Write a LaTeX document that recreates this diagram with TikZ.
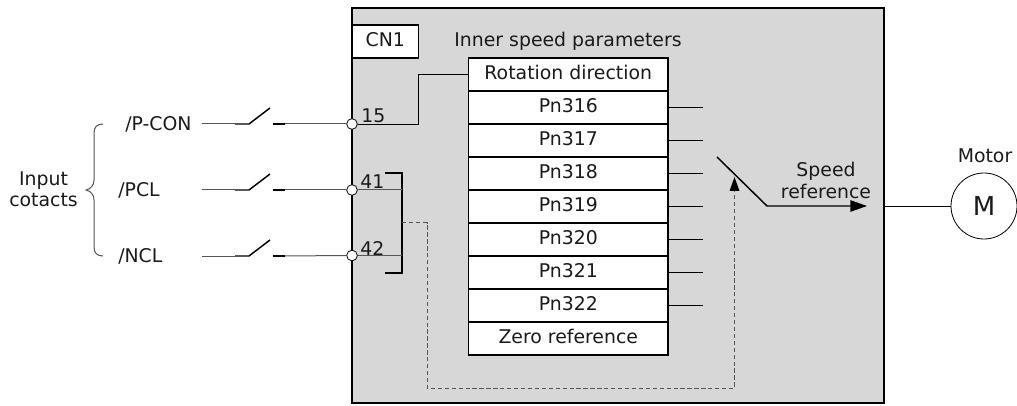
\documentclass[tikz,border=0pt]{standalone}
\usepackage{fontspec}
\setmainfont{DejaVu Sans}
\usetikzlibrary{arrows.meta}
\definecolor{panel}{HTML}{D7D7D7}
\definecolor{txt}{HTML}{1A1A1A}
\definecolor{wire}{HTML}{555555}
\tikzset{
  x=0.75pt,y=-0.75pt,
  lbl/.style={inner sep=0pt,anchor=base,text=txt,font=\fontsize{14.15}{16}\selectfont},
  rowbox/.style={draw=black,fill=white,line width=1.1pt,minimum width=149.6pt,minimum height=24.75pt,inner sep=0pt,text=txt,font=\fontsize{14.15}{16}\selectfont,text height=10.5pt,text depth=2.5pt},
  term/.style={circle,draw=black,fill=white,line width=0.6pt,minimum size=8pt,inner sep=0pt},
  thinw/.style={draw=wire,line width=0.75pt},
  thinb/.style={draw=black,line width=0.6pt},
  hvy/.style={draw=black,line width=1.1pt},
  dashw/.style={draw=wire,line width=0.75pt,dash pattern=on 3.2pt off 2pt},
}
\begin{document}
\begin{tikzpicture}
\useasboundingbox (0,0) rectangle (1017,406);
% drive panel
\node[draw=black,fill=panel,line width=1.1pt,minimum width=399pt,minimum height=296.5pt,inner sep=0pt] (drive) at (618,205.5) {};
\node[rowbox,minimum width=49.9pt] (cn) at (385.25,41.5) {CN1};
\node[lbl] (title) at (568,46.7) {Inner speed parameters};
% parameter table
\node[rowbox] (r0) at (568.25,74.5) {Rotation direction};
\node[rowbox] (r1) at (568.25,107.5) {Pn316};
\node[rowbox] (r2) at (568.25,140.5) {Pn317};
\node[rowbox] (r3) at (568.25,173.5) {Pn318};
\node[rowbox] (r4) at (568.25,206.5) {Pn319};
\node[rowbox] (r5) at (568.25,239.5) {Pn320};
\node[rowbox] (r6) at (568.25,272.5) {Pn321};
\node[rowbox] (r7) at (568.25,305.5) {Pn322};
\node[rowbox] (r8) at (568.25,338.5) {Zero reference};
% stubs
\foreach \i in {1,...,7}{
  \coordinate (s\i) at ([xshift=25.5pt]r\i.east);
  \draw[hvy] (r\i.east) -- (s\i);
}
% terminals
\node[term] (t15) at (352,124) {};
\node[term] (t41) at (352,190) {};
\node[term] (t42) at (352,255.5) {};
\node[lbl,anchor=base west] (n15) at (361,122.7) {15};
\node[lbl,anchor=base west] (n41) at (360,189) {41};
\node[lbl,anchor=base west] (n42) at (360,255) {42};
% input labels
\node[lbl,anchor=base west] (pcon) at (125,130.7) {/P-CON};
\node[lbl,anchor=base west] (pcl) at (118,196.7) {/PCL};
\node[lbl,anchor=base west] (ncl) at (118,262.7) {/NCL};
\node[lbl] (inp) at (43.5,185.5) {Input};
\node[lbl] (cot) at (43.5,206.7) {cotacts};
% brace
\draw[thinw] (103,124) .. controls (97,124) and (94,127) .. (94,133) -- (94,180) .. controls (94,185) and (91,189) .. (86,190) .. controls (91,191) and (94,195) .. (94,200) -- (94,247) .. controls (94,253) and (97,256) .. (103,256);
% switches
\foreach \n/\y/\t in {a/124/t15,b/190/t41,c/256/t42}{
  \coordinate (\n0) at (202,\y);
  \coordinate (\n1) at (235,\y);
  \coordinate (\n2) at (249,\y);
  \coordinate (\n3) at (270,\y-16);
  \coordinate (\n4) at (272.5,\y);
  \coordinate (\n5) at (285,\y);
  \draw[thinw] (\n0) -- (\n1);
  \draw[hvy] (\n1) -- (\n2) -- (\n3);
  \draw[hvy] (\n4) -- (\n5);
  \draw[thinw] (\n5) -- (\t.west);
}
% internal wiring
\coordinate (w15) at (418.5,124);
\coordinate (w15b) at (418.5,74.5);
\draw[thinb] (t15.east) -- (w15) -- (w15b) -- (r0.west);
\coordinate (b1) at (385,173);
\coordinate (b2) at (402,173);
\coordinate (b3) at (402,273);
\coordinate (b4) at (385,273);
\draw[hvy] (b1) -- (b2) -- (b3) -- (b4);
\draw[thinw] (t41.east) -- (402,190);
\draw[thinw] (t42.east) -- (402,255.5);
% dashed control line
\coordinate (d0) at (402,222.7);
\coordinate (d1) at (427,222.7);
\coordinate (d2) at (427,388);
\coordinate (d3) at (734.5,388);
\coordinate (d4) at (734.5,177);
\draw[dashw] (d0) -- (d1) -- (d2) -- (d3) -- (734.5,191);
\draw[draw=none,fill=black] (d4) -- (729.5,191) -- (739.5,191) -- cycle;
% selector and output
\coordinate (l0) at (717,157);
\coordinate (l1) at (767,206);
\coordinate (l2) at (867,206);
\draw[hvy,-{Triangle[length=12.5pt,width=8.5pt]}] (l0) -- (l1) -- (l2);
\node[lbl] (spd) at (826,176) {Speed};
\node[lbl] (ref) at (826,199) {reference};
% motor
\node[circle,draw=black,fill=white,line width=0.6pt,minimum size=49.5pt,inner sep=0pt,text=txt,font=\fontsize{19.5}{22}\selectfont,text height=13.5pt,text depth=0pt] (m) at (984,206) {M};
\node[lbl] (mot) at (985,162.7) {Motor};
\draw[thinb] (drive.east |- m.west) -- (m.west);
\end{tikzpicture}
\end{document}
